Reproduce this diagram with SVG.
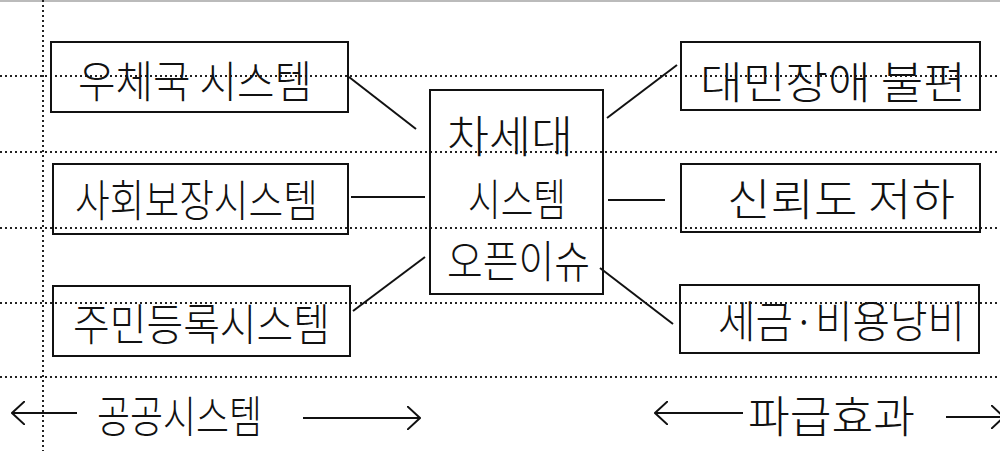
<svg xmlns="http://www.w3.org/2000/svg" width="1000" height="451" viewBox="0 0 1000 451">
  <defs>
    <marker id="arr" viewBox="0 0 14 24" refX="13" refY="12" markerWidth="14" markerHeight="24" markerUnits="userSpaceOnUse" orient="auto-start-reverse">
      <path d="M0,0 L13,12 L0,24" fill="none" stroke="#111" stroke-width="2"/>
    </marker>
  </defs>
  <style>
    .grid { stroke: #222; stroke-width: 2; stroke-dasharray: 2 3; fill: none; }
    .box { fill: none; stroke: #111; stroke-width: 2; }
    .conn { stroke: #111; stroke-width: 2; fill: none; }
    .t { font-family: "Noto Sans CJK KR", "Noto Sans", sans-serif; font-size: 44px; fill: #111; font-weight: 300; }
  </style>
  <rect x="0" y="0" width="1000" height="451" fill="#fff"/>
  <line x1="0" y1="1" x2="1000" y2="1" stroke="#bbb" stroke-width="2"/>
  <g id="paper-lines">
    <line class="grid" x1="43" y1="0" x2="43" y2="451"/>
    <line class="grid" x1="0" y1="76" x2="1000" y2="76"/>
    <line class="grid" x1="0" y1="152" x2="1000" y2="152"/>
    <line class="grid" x1="0" y1="228" x2="1000" y2="228"/>
    <line class="grid" x1="0" y1="303" x2="1000" y2="303"/>
    <line class="grid" x1="0" y1="377" x2="1000" y2="377"/>
  </g>
  <g id="connectors">
    <line class="conn" x1="349" y1="77" x2="416" y2="129"/>
    <line class="conn" x1="351" y1="197" x2="425" y2="197"/>
    <line class="conn" x1="353" y1="311" x2="425" y2="257"/>
    <line class="conn" x1="607" y1="118" x2="677" y2="65"/>
    <line class="conn" x1="608" y1="200" x2="665" y2="200"/>
    <line class="conn" x1="600" y1="268" x2="673" y2="324"/>
  </g>
  <g id="node-post">
    <rect class="box" x="51" y="42" width="297" height="70"/>
    <text class="t" x="78" y="98" textLength="234" lengthAdjust="spacingAndGlyphs">우체국 시스템</text>
  </g>
  <g id="node-social">
    <rect class="box" x="53" y="164" width="295" height="70"/>
    <text class="t" x="75" y="217" textLength="243" lengthAdjust="spacingAndGlyphs">사회보장시스템</text>
  </g>
  <g id="node-resident">
    <rect class="box" x="53" y="286" width="297" height="70"/>
    <text class="t" x="73" y="341" textLength="257" lengthAdjust="spacingAndGlyphs">주민등록시스템</text>
  </g>
  <g id="node-center">
    <rect class="box" x="430" y="90" width="173" height="204"/>
    <text class="t" x="447" y="153" textLength="126" lengthAdjust="spacingAndGlyphs">차세대</text>
    <text class="t" x="468" y="216" textLength="98" lengthAdjust="spacingAndGlyphs">시스템</text>
    <text class="t" x="447" y="278" textLength="143" lengthAdjust="spacingAndGlyphs">오픈이슈</text>
  </g>
  <g id="node-inconvenience">
    <rect class="box" x="681" y="42" width="299" height="68"/>
    <text class="t" x="700" y="99" textLength="266" lengthAdjust="spacingAndGlyphs">대민장애 불편</text>
  </g>
  <g id="node-trust">
    <rect class="box" x="681" y="164" width="299" height="68"/>
    <text class="t" x="727" y="216" textLength="228" lengthAdjust="spacingAndGlyphs">신뢰도 저하</text>
  </g>
  <g id="node-waste">
    <rect class="box" x="680" y="285" width="299" height="68"/>
    <text class="t" x="718" y="338" textLength="247" lengthAdjust="spacingAndGlyphs">세금·비용낭비</text>
  </g>
  <g id="label-public">
    <line class="conn" x1="12" y1="413" x2="77" y2="413" marker-start="url(#arr)"/>
    <text class="t" x="97" y="433" textLength="165" lengthAdjust="spacingAndGlyphs">공공시스템</text>
    <line class="conn" x1="303" y1="418" x2="420" y2="418" marker-end="url(#arr)"/>
  </g>
  <g id="label-effect">
    <line class="conn" x1="655" y1="413" x2="743" y2="413" marker-start="url(#arr)"/>
    <text class="t" x="748" y="433" textLength="167" lengthAdjust="spacingAndGlyphs">파급효과</text>
    <line class="conn" x1="946" y1="417" x2="1004" y2="417" marker-end="url(#arr)"/>
  </g>
</svg>
